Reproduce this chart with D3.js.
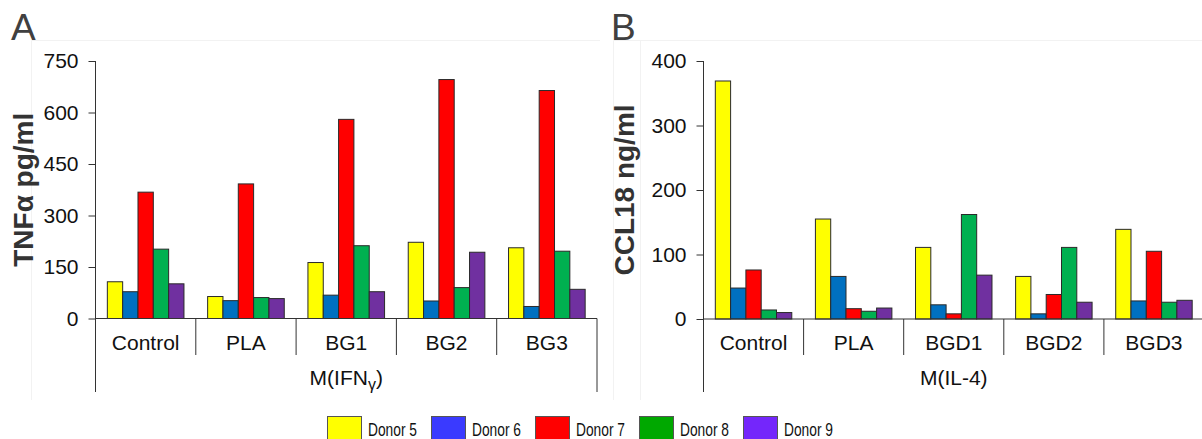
<!DOCTYPE html>
<html>
<head>
<meta charset="utf-8">
<script src="https://cdn.jsdelivr.net/npm/d3@7"></script>
<style>
  html, body { margin: 0; padding: 0; background: #fff; }
  svg { display: block; font-family: "Liberation Sans", Arial, sans-serif; }
</style>
</head>
<body>
<svg id="chart" width="1202" height="439"></svg>
<script>
// Donors (series) and their colours
const donors = ["Donor 5", "Donor 6", "Donor 7", "Donor 8", "Donor 9"];
const barColors = ["#ffff00", "#0070c0", "#ff0000", "#00b050", "#7030a0"];
const legendColors = ["#ffff00", "#3a3aff", "#ff0000", "#00a800", "#7426fb"];

// Panel A: TNFα secretion of M(IFNγ) macrophages
const groupsA = ["Control", "PLA", "BG1", "BG2", "BG3"];
const donor5A = [107, 64, 163, 222, 206];
const donor6A = [78, 52, 68, 51, 35];
const donor7A = [368, 392, 580, 696, 664];
const donor8A = [202, 61, 212, 90, 196];
const donor9A = [101, 58, 78, 193, 85];
const ticksA = [0, 150, 300, 450, 600, 750];

// Panel B: CCL18 secretion of M(IL-4) macrophages
const groupsB = ["Control", "PLA", "BGD1", "BGD2", "BGD3"];
const donor5B = [369, 155, 111, 66, 139];
const donor6B = [48, 66, 22, 8, 28];
const donor7B = [76, 16, 8, 38, 105];
const donor8B = [14, 12, 162, 111, 26];
const donor9B = [10, 17, 68, 26, 29];
const ticksB = [0, 100, 200, 300, 400];

const svg = d3.select("#chart");

// faint frame edges around each panel's plotting area
const frame = svg.append("g").attr("stroke", "#f2f2f2").attr("stroke-width", 1);
frame.append("line").attr("x1", 31.5).attr("x2", 600).attr("y1", 40.5).attr("y2", 40.5);
frame.append("line").attr("x1", 31.5).attr("x2", 31.5).attr("y1", 40.5).attr("y2", 400);
frame.append("line").attr("x1", 613.5).attr("x2", 1202).attr("y1", 40.5).attr("y2", 40.5);
frame.append("line").attr("x1", 613.5).attr("x2", 613.5).attr("y1", 40.5).attr("y2", 400);
frame.append("line").attr("x1", 640.5).attr("x2", 640.5).attr("y1", 40.5).attr("y2", 400);

function drawPanel(cfg) {
  const g = svg.append("g");
  const x0 = d3.scaleBand().domain(cfg.groups).range([cfg.left, cfg.right]).paddingInner(0).paddingOuter(0);
  const bw = x0.bandwidth();
  const x1 = d3.scaleBand().domain(donors).range([bw * 0.118, bw * 0.882]).padding(0);
  const y = d3.scaleLinear().domain(cfg.domain).range([cfg.bottom, cfg.top]);

  // bars
  cfg.series.forEach((vals, si) => {
    g.append("g").selectAll("rect")
      .data(vals)
      .join("rect")
      .attr("x", (d, i) => x0(cfg.groups[i]) + x1(donors[si]))
      .attr("y", d => y(d))
      .attr("width", x1.bandwidth())
      .attr("height", d => y(0) - y(d))
      .attr("fill", barColors[si])
      .attr("stroke", "#2a2a2a")
      .attr("stroke-width", 1);
  });

  // y axis
  const axis = d3.axisLeft(y).tickValues(cfg.ticks).tickSize(7).tickPadding(10).tickFormat(d3.format("d"));
  const ag = g.append("g").attr("transform", `translate(${cfg.left},0)`).call(axis);
  ag.select(".domain").remove();
  ag.selectAll(".tick line").attr("stroke", "#333");
  ag.selectAll(".tick text")
    .attr("font-size", 21)
    .attr("font-family", "'Liberation Sans', Arial, sans-serif")
    .attr("fill", "#111");

  // axis line running down through the category area
  g.append("line")
    .attr("x1", cfg.left).attr("x2", cfg.left)
    .attr("y1", y(cfg.domain[1])).attr("y2", 392)
    .attr("stroke", "#333");

  // baseline
  g.append("line")
    .attr("x1", cfg.left).attr("x2", cfg.right)
    .attr("y1", y(0)).attr("y2", y(0))
    .attr("stroke", "#333");

  // category separators
  cfg.groups.forEach((c, i) => {
    if (i === 0) return;
    g.append("line")
      .attr("x1", x0(c)).attr("x2", x0(c))
      .attr("y1", y(0)).attr("y2", 355)
      .attr("stroke", "#333");
  });
  g.append("line")
    .attr("x1", cfg.right).attr("x2", cfg.right)
    .attr("y1", y(0)).attr("y2", 392)
    .attr("stroke", "#333");

  // category labels
  g.append("g").selectAll("text")
    .data(cfg.groups)
    .join("text")
    .attr("x", d => x0(d) + bw / 2)
    .attr("y", 350)
    .attr("text-anchor", "middle")
    .attr("font-size", 21)
    .attr("fill", "#111")
    .text(d => d);

  // condition label
  const gl = g.append("text")
    .attr("x", (cfg.left + cfg.right) / 2)
    .attr("y", 385)
    .attr("text-anchor", "middle")
    .attr("font-size", 21)
    .attr("fill", "#111");
  cfg.condition(gl);

  // y title
  g.append("text")
    .attr("transform", `translate(${cfg.titleX},${(y(0) + y(cfg.domain[1])) / 2}) rotate(-90)`)
    .attr("text-anchor", "middle")
    .attr("font-size", 28)
    .attr("font-weight", "bold")
    .attr("fill", "#333")
    .text(cfg.title);

  // panel letter
  g.append("text")
    .attr("x", cfg.letterX)
    .attr("y", 40)
    .attr("font-size", 37)
    .attr("fill", "#404040")
    .text(cfg.letter);
}

drawPanel({
  groups: groupsA,
  series: [donor5A, donor6A, donor7A, donor8A, donor9A],
  ticks: ticksA,
  domain: [0, 750],
  left: 95.5, right: 597, top: 61, bottom: 318.5,
  title: "TNFα pg/ml", titleX: 33,
  letter: "A", letterX: 11,
  condition: t => {
    t.append("tspan").text("M(IFN");
    t.append("tspan").attr("font-size", 16).attr("dy", 5).text("γ");
    t.append("tspan").attr("dy", -5).text(")");
  }
});

drawPanel({
  groups: groupsB,
  series: [donor5B, donor6B, donor7B, donor8B, donor9B],
  ticks: ticksB,
  domain: [0, 400],
  left: 703.5, right: 1204, top: 61, bottom: 319,
  title: "CCL18 ng/ml", titleX: 634,
  letter: "B", letterX: 611,
  condition: t => t.text("M(IL-4)")
});

// legend
const legend = svg.append("g").attr("transform", "translate(327,416)");
const item = legend.selectAll("g")
  .data(donors)
  .join("g")
  .attr("transform", (d, i) => `translate(${i * 104},0)`);
item.append("rect")
  .attr("x", 0.5).attr("y", 0.5)
  .attr("width", 34).attr("height", 23)
  .attr("fill", (d, i) => legendColors[i])
  .attr("stroke", "#555");
item.append("text")
  .attr("x", 41)
  .attr("y", 20)
  .attr("font-size", 19)
  .attr("textLength", 49)
  .attr("lengthAdjust", "spacingAndGlyphs")
  .attr("fill", "#111")
  .text(d => d);
</script>
</body>
</html>
